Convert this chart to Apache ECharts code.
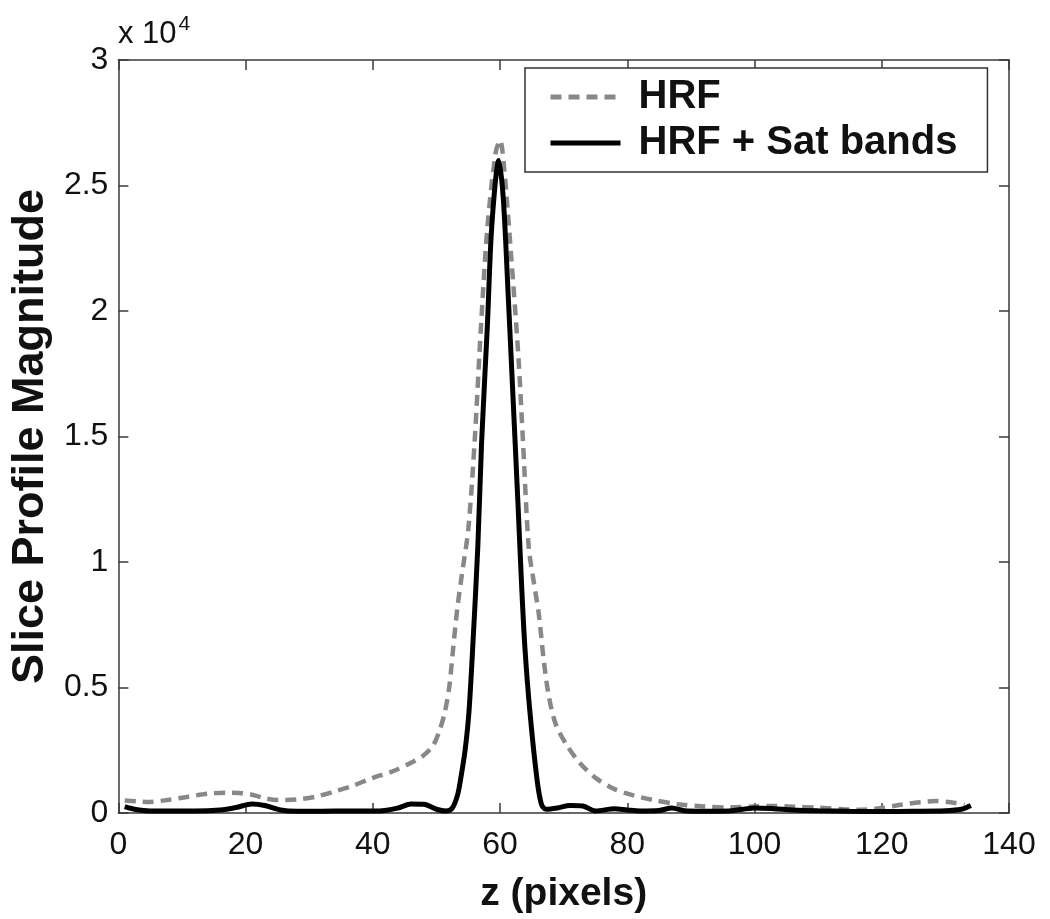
<!DOCTYPE html>
<html>
<head>
<meta charset="utf-8">
<script src="https://cdn.jsdelivr.net/npm/echarts@6/dist/echarts.min.js"></script>
<style>html,body{margin:0;padding:0;background:#fff}#c{width:1050px;height:919px}</style>
</head>
<body>
<div id="c"></div>
<script>
// z positions (pixels) and magnitudes
const hrfZ = [1,3,5,8,11,14,17,19,21,23,25,28,31,34,37,40,43,46,48,49.5,50.5,51.3,52,52.6,53.3,54,55,56,57,58,59.3,60,60.6,61.8,62.9,63.6,64.5,65.3,66.1,66.9,67.7,68.8,70.5,72.5,75,78,81,84,88,92,96,100,103,106,110,114,117,120,123,126,128.5,131,133];
const hrfV = [500,460,440,530,650,770,810,800,730,590,520,540,650,860,1100,1400,1650,2000,2300,2700,3300,4000,5000,6500,8200,9500,11300,14800,19400,23300,26300,26800,25800,22000,18100,14800,10600,9200,7900,6000,4600,3500,2700,2000,1400,950,700,520,350,260,220,260,280,250,210,150,130,200,330,430,480,420,330];

const satZ = [1,2.5,5,8,12,16,18.5,21,23,25.5,28,32,36,41,44,46,48,50,51.5,52.5,53.3,53.8,54.5,55.1,55.7,56.5,57.1,58,58.7,59.8,60.5,61.3,62.1,62.8,63.4,63.9,64.7,65.8,66.5,67.2,69,71,73,75,78,80,82,85,87,89,92,96,100,103,106,110,115,120,125,130,132.5,134];
const satV = [250,150,80,80,80,120,220,360,300,120,70,70,80,80,200,360,350,150,80,200,700,1350,2500,4000,6600,10600,14800,19400,23400,26000,24500,20500,16200,12400,9000,6600,4000,1350,350,150,200,300,280,80,170,120,80,100,200,90,70,80,200,170,120,90,70,60,70,90,150,300];

const xTicks = {min: 0, max: 140, interval: 20};
const yTicks = {min: 0, max: 30000, interval: 5000};
const seriesNames = ['HRF', 'HRF + Sat bands'];

const pair = (zs, vs) => zs.map((z, i) => [z, vs[i]]);
const FONT = '"Liberation Sans", Arial, sans-serif';
const axisCol = '#3a3a3a';

const chart = echarts.init(document.getElementById('c'), null, {renderer: 'canvas'});
const baseX = {
  type: 'value', min: xTicks.min, max: xTicks.max, interval: xTicks.interval,
  axisLine: {show: true, onZero: false, lineStyle: {color: axisCol, width: 1.5}},
  axisTick: {show: true, inside: true, length: 10, lineStyle: {color: axisCol, width: 1.5}},
  splitLine: {show: false}
};
const baseY = {
  type: 'value', min: yTicks.min, max: yTicks.max, interval: yTicks.interval,
  axisLine: {show: true, onZero: false, lineStyle: {color: axisCol, width: 1.5}},
  axisTick: {show: true, inside: true, length: 10, lineStyle: {color: axisCol, width: 1.5}},
  splitLine: {show: false}
};

chart.setOption({
  animation: false,
  backgroundColor: '#fff',
  grid: {left: 118, right: 41, top: 60, bottom: 102, containLabel: false},
  graphic: [{
    type: 'text', left: 118, top: 14,
    style: {
      text: '{a|x 10}{b|4}',
      rich: {
        a: {fontFamily: FONT, fontSize: 31, fill: '#111', verticalAlign: 'bottom', lineHeight: 36},
        b: {fontFamily: FONT, fontSize: 21, fill: '#111', verticalAlign: 'top', lineHeight: 36, padding: [0,0,14,2]}
      }
    }
  }],
  legend: {
    show: true, orient: 'vertical', left: 525, top: 68,
    padding: [9, 30, 9, 23], itemGap: 6, itemWidth: 70, itemHeight: 14,
    borderColor: '#333', borderWidth: 1.5, backgroundColor: '#fff',
    itemStyle: {opacity: 0},
    textStyle: {fontFamily: FONT, fontSize: 40, fontWeight: 'bold', color: '#111', padding: [0, 0, 0, 13]},
    data: [
      {name: seriesNames[0], lineStyle: {color: '#888', width: 5, type: [11, 7]}},
      {name: seriesNames[1], lineStyle: {color: '#000', width: 5, type: 'solid'}}
    ]
  },
  xAxis: [
    Object.assign({}, baseX, {
      position: 'bottom',
      name: 'z (pixels)', nameLocation: 'middle', nameGap: 62,
      nameTextStyle: {fontFamily: FONT, fontSize: 39, fontWeight: 'bold', color: '#111'},
      axisLabel: {show: true, margin: 16, fontFamily: FONT, fontSize: 32, color: '#111'}
    }),
    Object.assign({}, baseX, {position: 'top', axisLabel: {show: false}})
  ],
  yAxis: [
    Object.assign({}, baseY, {
      position: 'left',
      name: 'Slice Profile Magnitude', nameLocation: 'middle', nameGap: 62,
      nameTextStyle: {fontFamily: FONT, fontSize: 45, fontWeight: 'bold', color: '#111'},
      axisLabel: {show: true, margin: 10, fontFamily: FONT, fontSize: 32, color: '#111',
        formatter: v => String(v / 10000)}
    }),
    Object.assign({}, baseY, {position: 'right', axisLabel: {show: false}})
  ],
  series: [
    {
      name: seriesNames[0], type: 'line', xAxisIndex: 0, yAxisIndex: 0,
      data: pair(hrfZ, hrfV), symbol: 'none', smooth: 0.3,
      lineStyle: {color: '#888', width: 4.5, type: [11, 7]},
      itemStyle: {color: '#888'}, z: 2
    },
    {
      name: seriesNames[1], type: 'line', xAxisIndex: 0, yAxisIndex: 0,
      data: pair(satZ, satV), symbol: 'none', smooth: 0.3,
      lineStyle: {color: '#000', width: 5},
      itemStyle: {color: '#000'}, z: 3
    }
  ]
});
</script>
</body>
</html>
